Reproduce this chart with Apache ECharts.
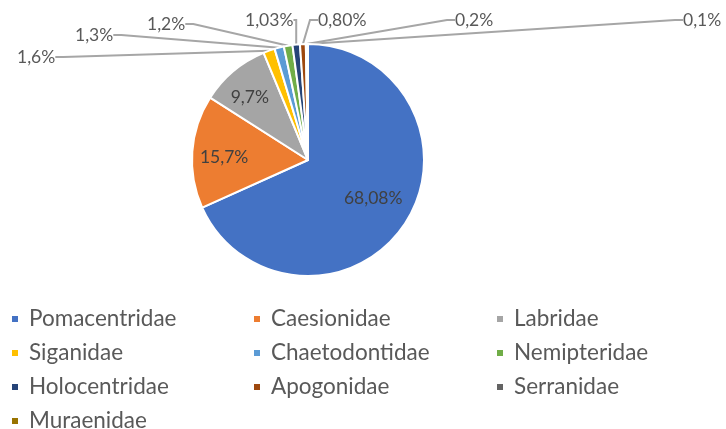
<!DOCTYPE html>
<html>
<head>
<meta charset="utf-8">
<script src="https://cdn.jsdelivr.net/npm/echarts@6/dist/echarts.min.js"></script>
<style>
html,body{margin:0;padding:0;background:#fff;}
#chart{width:726px;height:429px;}
</style>
</head>
<body>
<div id="chart"></div>
<script>
// ---- data ----
var families = ['Pomacentridae','Caesionidae','Labridae','Siganidae','Chaetodontidae','Nemipteridae','Holocentridae','Apogonidae','Serranidae','Muraenidae'];
var shares = [68.08, 15.7, 9.7, 1.6, 1.3, 1.2, 1.03, 0.80, 0.2, 0.1];
var shareLabels = ['68,08%','15,7%','9,7%','1,6%','1,3%','1,2%','1,03%','0,80%','0,2%','0,1%'];
var colors = ['#4472C4','#ED7D31','#A5A5A5','#FFC000','#5B9BD5','#70AD47','#264478','#9E480E','#636363','#997300'];

// ---- layout (label placement only) ----
var insideCount = 3;
var insideShift = [[14,5],[-23,2],[-19,-16]];
var outsidePos = [[17,57],[75,35],[147,24],[245,20],[318,20],[455,20],[683,20]];
var FONT = 'Lato, "Open Sans", sans-serif';

var data = families.map(function(name, i){
  var inside = i < insideCount;
  return {
    name: name,
    value: shares[i],
    itemStyle: {color: colors[i]},
    label: inside ? {position: 'inside', color: '#404040'} : {position: 'outside', color: '#595959'},
    labelLine: {show: !inside}
  };
});

var legendCols = [[0,3,6,9],[1,4,7],[2,5,8]];
var legendLeft = [10, 252, 495];
var legends = legendCols.map(function(col, c){
  return {
    orient: 'vertical',
    left: legendLeft[c],
    top: 307,
    height: 140,
    padding: 0,
    itemWidth: 8,
    itemHeight: 8,
    itemGap: 10,
    icon: 'rect',
    selectedMode: false,
    data: col.map(function(i){ return families[i]; }),
    textStyle: {fontFamily: FONT, fontSize: 22.5, color: '#595959', lineHeight: 24, padding: [0,0,0,5]}
  };
});

var chart = echarts.init(document.getElementById('chart'), null, {renderer: 'canvas'});
chart.setOption({
  animation: false,
  backgroundColor: '#ffffff',
  color: colors,
  legend: legends,
  series: [{
    type: 'pie',
    center: [308, 160],
    radius: 116,
    startAngle: 90,
    clockwise: true,
    avoidLabelOverlap: false,
    itemStyle: {borderColor: '#ffffff', borderWidth: 2},
    label: {
      fontFamily: FONT,
      fontSize: 17.5,
      formatter: function(p){ return shareLabels[p.dataIndex]; }
    },
    labelLine: {length: 10, length2: 8, lineStyle: {color: '#A6A6A6', width: 2}},
    labelLayout: function(p){
      var i = p.dataIndex;
      if (i < insideCount) {
        return {dx: insideShift[i][0], dy: insideShift[i][1]};
      }
      var pos = outsidePos[i - insideCount];
      return {x: pos[0], y: pos[1], align: 'left', verticalAlign: 'middle'};
    },
    data: data
  }]
});
</script>
</body>
</html>
